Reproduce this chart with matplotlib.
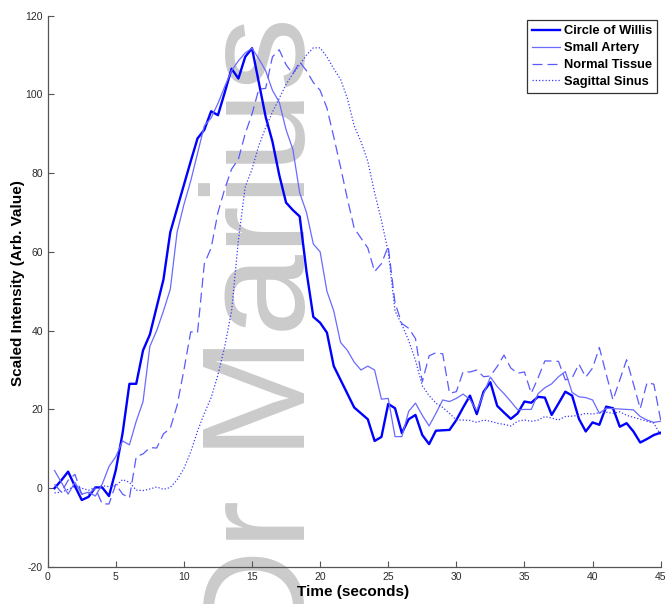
import matplotlib
matplotlib.use("Agg")
import matplotlib.pyplot as plt
import numpy as np

plt.rcParams['font.family'] = ['Liberation Sans', 'DejaVu Sans']
plt.rcParams['axes.unicode_minus'] = False

# muestreo cada 0.5 s
tiempo = np.arange(1, 91) * 0.5

circle_of_willis = [
    0.0, 2.0, 4.2, 0.5, -3.0, -2.2, 0.2, 0.2, -2.0, 4.6,
    14, 26.5, 26.5, 35, 39, 46, 53, 65, 71, 77,
    83, 88.8, 91, 95.7, 94.7, 100.5, 106.5, 104, 109.5, 111.7,
    103, 94.3, 88, 79.5, 72.5, 70.6, 69, 55, 43.5, 42,
    39.5, 31, 27.5, 24, 20.5, 19, 17.5, 12, 13, 21.4,
    20.3, 14, 17.5, 18.6, 13.5, 11.2, 14.6, 14.7, 14.8, 17.3,
    20.5, 23.5, 18.8, 24.5, 26.9, 20.9, 19.2, 17.6, 19.0, 22.0,
    21.7, 23.2, 23.0, 18.6, 21.5, 24.5, 23.5, 17.6, 14.4, 16.7,
    16.1, 20.7, 20.3, 15.6, 16.5, 14.4, 11.6, 12.5, 13.5, 14.1,
]

small_artery = [
    4.5, 1.5, -1.5, 1.5, -1.5, -1.0, -2.0, 1.0, 5.5, 8.0,
    12, 11, 17, 22, 36, 40, 45, 50.5, 65, 72,
    78, 85, 92, 94, 97.7, 102, 106, 108.5, 110.5, 111.7,
    109, 106, 101, 98, 91, 86, 75, 70, 62, 60,
    50, 45, 37, 35, 32, 30, 31, 30, 22.6, 22.8,
    13.1, 13.1, 19.5, 21.6, 18.5, 15.8, 19, 22.4, 22, 22.8,
    23.9, 22.5, 19.7, 24, 28.2, 25.8, 24, 22, 19.9, 20,
    20, 24, 25.5, 26.5, 28.3, 29.6, 24.3, 23.2, 23, 22.4,
    19, 20.3, 20.2, 20.1, 20, 19.9, 18.2, 17.3, 16.7, 17,
]

normal_tissue = [
    1.0, -1.0, 2.0, 3.5, -1.5, -1.5, 0.0, -4.0, -4.0, 1.0,
    -1.5, -2.5, 8.0, 8.7, 10.3, 10.2, 13.8, 15.2, 21, 30,
    39.7, 39.5, 57, 61, 70, 76, 81, 83.5, 90, 95,
    101.3, 101.5, 109.5, 111.3, 107.5, 105.2, 108.2, 106, 103, 101,
    96.5, 89.2, 81.5, 73.5, 66, 63.5, 61, 55, 57, 61.4,
    47, 41.8, 40.6, 38, 27, 33.6, 34.4, 34.1, 24.1, 24.5,
    29.6, 29.5, 30, 28.3, 28.5, 30.9, 33.8, 30.5, 29.2, 29.5,
    24.1, 28, 32.3, 32.3, 32.2, 27.5, 28, 31.5, 28.2, 30.5,
    35.7, 29, 22.4, 27.5, 32.6, 26.5, 20.2, 26.8, 26.4, 17.3,
]

sagittal_sinus = [
    -1.2, -1.0, -0.3, 0.5, 0.0, -0.5, 0.2, 0.6, 0.4, 0.6,
    2.2, 1.5, -0.5, -0.6, -0.2, 0.3, -0.3, 0.2, 2.1, 5.0,
    9.2, 14.5, 19, 23, 28.8, 36, 45, 63, 76.5, 81,
    87, 91.5, 95.5, 99, 102.5, 105.2, 107.5, 110, 111.8, 111.8,
    109.5, 106.5, 103.8, 99, 92, 88, 83, 75, 68, 60,
    45, 41.5, 37.5, 32.5, 26, 23.5, 21.6, 20.5, 19, 17.3,
    17.3, 17.2, 16.7, 17.3, 17.0, 16.5, 16.2, 15.8, 17.0, 17.3,
    17.0, 17.3, 18.2, 17.8, 17.3, 18.2, 18.3, 18.5, 19, 18.8,
    19.2, 19.3, 19, 19.4, 18.5, 18, 17.5, 17, 16.5, 13.5,
]

fig = plt.figure(figsize=(6.67, 6.04), dpi=100)
ax = fig.add_axes([0.0715, 0.0613, 0.919, 0.913])

# marca de agua vertical
ax.text(305 / 667, 1 - 655 / 604, 'Dr Marius', transform=fig.transFigure,
        rotation=90, rotation_mode='anchor', ha='left', va='baseline',
        fontsize=106, color='#cbcbcb', zorder=0, clip_on=False)

ax.plot(tiempo, circle_of_willis, color='#0000ff', lw=1.7, label='Circle of Willis')
ax.plot(tiempo, small_artery, color='#6a6aff', lw=0.9, label='Small Artery')
ax.plot(tiempo, normal_tissue, color='#5a5aff', lw=0.9, dashes=(8, 4), label='Normal Tissue')
ax.plot(tiempo, sagittal_sinus, color='#3a3aff', lw=0.9, dashes=(1, 1.6), label='Sagittal Sinus')

ax.set_xlim(0, 45)
ax.set_ylim(-20, 120)
ax.set_xticks(np.arange(0, 46, 5))
ax.set_yticks(np.arange(-20, 121, 20))

for lado in ['top', 'right']:
    ax.spines[lado].set_visible(False)
for lado in ['left', 'bottom']:
    ax.spines[lado].set_color('#555555')
    ax.spines[lado].set_linewidth(0.9)

ax.tick_params(direction='in', length=4, width=0.8, colors='#555555',
               labelcolor='#2a2a2a', labelsize=7.5, pad=3.5)

fig.text(353.5 / 667, 1 - 592 / 604, 'Time (seconds)', ha='center', va='center',
         fontsize=11, fontweight='bold')
fig.text(18 / 667, 1 - 283 / 604, 'Scaled Intensity (Arb. Value)', ha='center',
         va='center', rotation=90, fontsize=11, fontweight='bold')

leg = ax.legend(loc='upper right', bbox_to_anchor=(0.994, 0.992), borderaxespad=0,
                fancybox=False, edgecolor='#333333', framealpha=1,
                prop={'weight': 'bold', 'size': 9.3}, handlelength=2.15,
                handletextpad=0.3, labelspacing=0.38, borderpad=0.4)
leg.get_frame().set_linewidth(0.9)

plt.savefig('out.png', dpi=100)
